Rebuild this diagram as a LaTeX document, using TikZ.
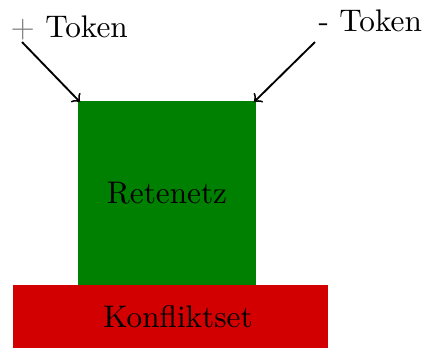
\documentclass[tikz,border=0pt]{standalone}
\usetikzlibrary{positioning}
\definecolor{netgreen}{RGB}{0,128,0}
\definecolor{setred}{RGB}{210,0,0}
\begin{document}
\begin{tikzpicture}[x=0.32pt,y=-0.32pt,
  box/.style={draw=none,inner sep=0pt},
  tokenarrow/.style={->,black,line width=0.6pt}]
\useasboundingbox (0,0) rectangle (422,349);
% rete network and conflict set blocks
\fill[netgreen] (78,101) rectangle (256,285);
\fill[setred] (13,285) rectangle (328,348);
\node[box] (rete) at (167,193) {Retenetz};
\node[box] (konflikt) at (178,316.5) {Konfliktset};
% incoming tokens
\node[box,anchor=base west] (plus) at (10,37) {\textcolor{gray}{+} Token};
\node[box,anchor=base west] (minus) at (318,31) {- Token};
\coordinate (plusstart) at (22,42);
\coordinate (minusstart) at (315,42);
\coordinate (retenw) at (80,102);
\coordinate (retene) at (254,102);
\draw[tokenarrow] (plusstart) -- (retenw);
\draw[tokenarrow] (minusstart) -- (retene);
\end{tikzpicture}
\end{document}
